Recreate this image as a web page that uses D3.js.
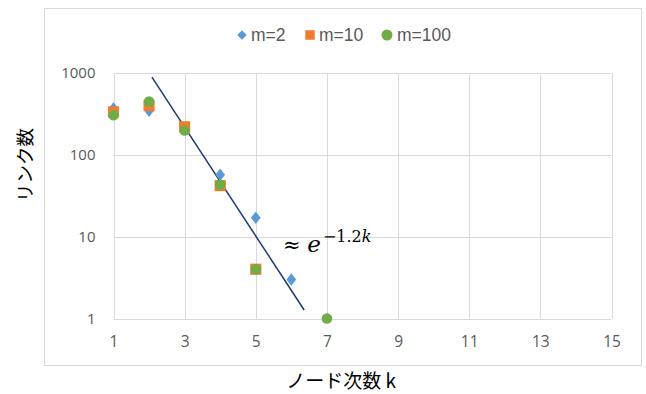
<!DOCTYPE html>
<html>
<head>
<meta charset="utf-8">
<script src="https://cdn.jsdelivr.net/npm/d3@7"></script>
<style>
  html, body { margin: 0; padding: 0; background: #fff; }
  svg { display: block; }
  text { font-family: "Open Sans", "Noto Sans", "Noto Sans CJK JP", sans-serif; }
</style>
</head>
<body>
<svg id="chart" width="646" height="394"></svg>
<script>
// Node degree k vs. link count for three values of m
const degrees = [1, 2, 3, 4, 5, 6, 7];
const seriesNames = ["m=2", "m=10", "m=100"];
const linksM2 = [370, 345, 205, 57, 17, 3, null];
const linksM10 = [335, 400, 220, 42, 4, null, null];
const linksM100 = [305, 447, 198, 43, 4, null, 1];
const colors = ["#5b9bd5", "#ed7d31", "#70ad47"];
const xTicks = [1, 3, 5, 7, 9, 11, 13, 15];
const yTicks = [1, 10, 100, 1000];
// Fitted exponential guide, as [k, links] end points
const trendK = [2.08, 6.36];
const trendLinks = [890, 1.27];

const svg = d3.select("#chart");

// chart frame
svg.append("rect").attr("x", 44.5).attr("y", 8.5).attr("width", 597).attr("height", 357)
  .attr("fill", "#fff").attr("stroke", "#d9d9d9").attr("stroke-width", 1);

const x = d3.scaleLinear().domain([1, 15]).range([113.5, 611.5]);
const y = d3.scaleLog().domain([1, 1000]).range([318.5, 73]);

// gridlines
const grid = svg.append("g");
grid.selectAll("line.v").data(xTicks).join("line")
  .attr("x1", d => Math.round(x(d)) + 0.5).attr("x2", d => Math.round(x(d)) + 0.5)
  .attr("y1", y(1000)).attr("y2", y(1))
  .attr("stroke", "#d9d9d9").attr("stroke-width", 1);
grid.selectAll("line.h").data(yTicks).join("line")
  .attr("x1", x(1)).attr("x2", x(15))
  .attr("y1", d => Math.round(y(d)) + 0.5).attr("y2", d => Math.round(y(d)) + 0.5)
  .attr("stroke", "#d9d9d9").attr("stroke-width", 1);

// axes (labels only)
const xAxis = d3.axisBottom(x).tickValues(xTicks).tickSize(0).tickPadding(17).tickFormat(d3.format("d"));
const gx = svg.append("g").attr("transform", `translate(0,${y(1)})`).call(xAxis);
gx.select(".domain").remove();
gx.selectAll("text").attr("fill", "#595959").style("font-size", "15.5px").style("font-family", "Open Sans, sans-serif");

const yAxis = d3.axisLeft(y).tickValues(yTicks).tickSize(0).tickPadding(18).tickFormat(d3.format("d"));
const gy = svg.append("g").attr("transform", `translate(${x(1)},0)`).call(yAxis);
gy.select(".domain").remove();
gy.selectAll("text").attr("fill", "#595959").style("font-size", "15px").style("font-family", "Open Sans, sans-serif");

// axis titles
svg.append("text").attr("x", 341).attr("y", 388).attr("text-anchor", "middle")
  .attr("fill", "#000").style("font-size", "19px")
  .style("font-family", "'Noto Sans CJK JP', sans-serif").text("ノード次数 k");
svg.append("text").attr("transform", "translate(32,165) rotate(-90)").attr("text-anchor", "middle")
  .attr("fill", "#000").style("font-size", "18.5px")
  .style("font-family", "'Noto Sans CJK JP', sans-serif").text("リンク数");

// trend guide
svg.append("line")
  .attr("x1", x(trendK[0])).attr("y1", y(trendLinks[0]))
  .attr("x2", x(trendK[1])).attr("y2", y(trendLinks[1]))
  .attr("stroke", "#1f3a6e").attr("stroke-width", 1.5);

// marker shapes: diamond, square, circle
const markerPath = [
  d3.symbol().type(d3.symbolSquare).size(58)(),
  d3.symbol().type(d3.symbolSquare).size(125)(),
  d3.symbol().type(d3.symbolCircle).size(88)()
];
const markerTransform = (i, p) => i === 0
  ? `translate(${x(p.k)},${y(p.v)}) scale(0.9,1.15) rotate(45)`
  : `translate(${x(p.k)},${y(p.v)})`;

const allSeries = [linksM2, linksM10, linksM100];
allSeries.forEach((vals, i) => {
  const pts = degrees.map((k, j) => ({ k, v: vals[j] })).filter(p => p.v != null);
  svg.append("g").selectAll("path").data(pts).join("path")
    .attr("d", markerPath[i])
    .attr("transform", p => markerTransform(i, p))
    .attr("fill", colors[i]);
});

// legend
const legendItems = [
  { name: seriesNames[0], sx: 242, tx: 251 },
  { name: seriesNames[1], sx: 310, tx: 319 },
  { name: seriesNames[2], sx: 387, tx: 397 }
];
const legendPath = [
  d3.symbol().type(d3.symbolSquare).size(45)(),
  d3.symbol().type(d3.symbolSquare).size(90)(),
  d3.symbol().type(d3.symbolCircle).size(95)()
];
const lg = svg.append("g");
legendItems.forEach((it, i) => {
  lg.append("path").attr("d", legendPath[i])
    .attr("transform", i === 0 ? `translate(${it.sx},35) rotate(45)` : `translate(${it.sx},35)`)
    .attr("fill", colors[i]);
  lg.append("text").attr("x", it.tx).attr("y", 41).attr("fill", "#595959")
    .style("font-size", "17.5px").style("font-family", "'Liberation Sans', sans-serif").text(it.name);
});

// formula annotation
const ann = svg.append("text").attr("x", 283).attr("y", 252)
  .style("font-family", "'DejaVu Serif', 'Liberation Serif', serif").attr("fill", "#000");
ann.append("tspan").style("font-size", "21px").text("≈ ");
ann.append("tspan").style("font-size", "23px").style("font-style", "italic").text("e");
ann.append("tspan").attr("dy", -10).attr("dx", 2).style("font-size", "16px").text("−1.2");
ann.append("tspan").style("font-size", "16px").style("font-style", "italic").text("k");
</script>
</body>
</html>
